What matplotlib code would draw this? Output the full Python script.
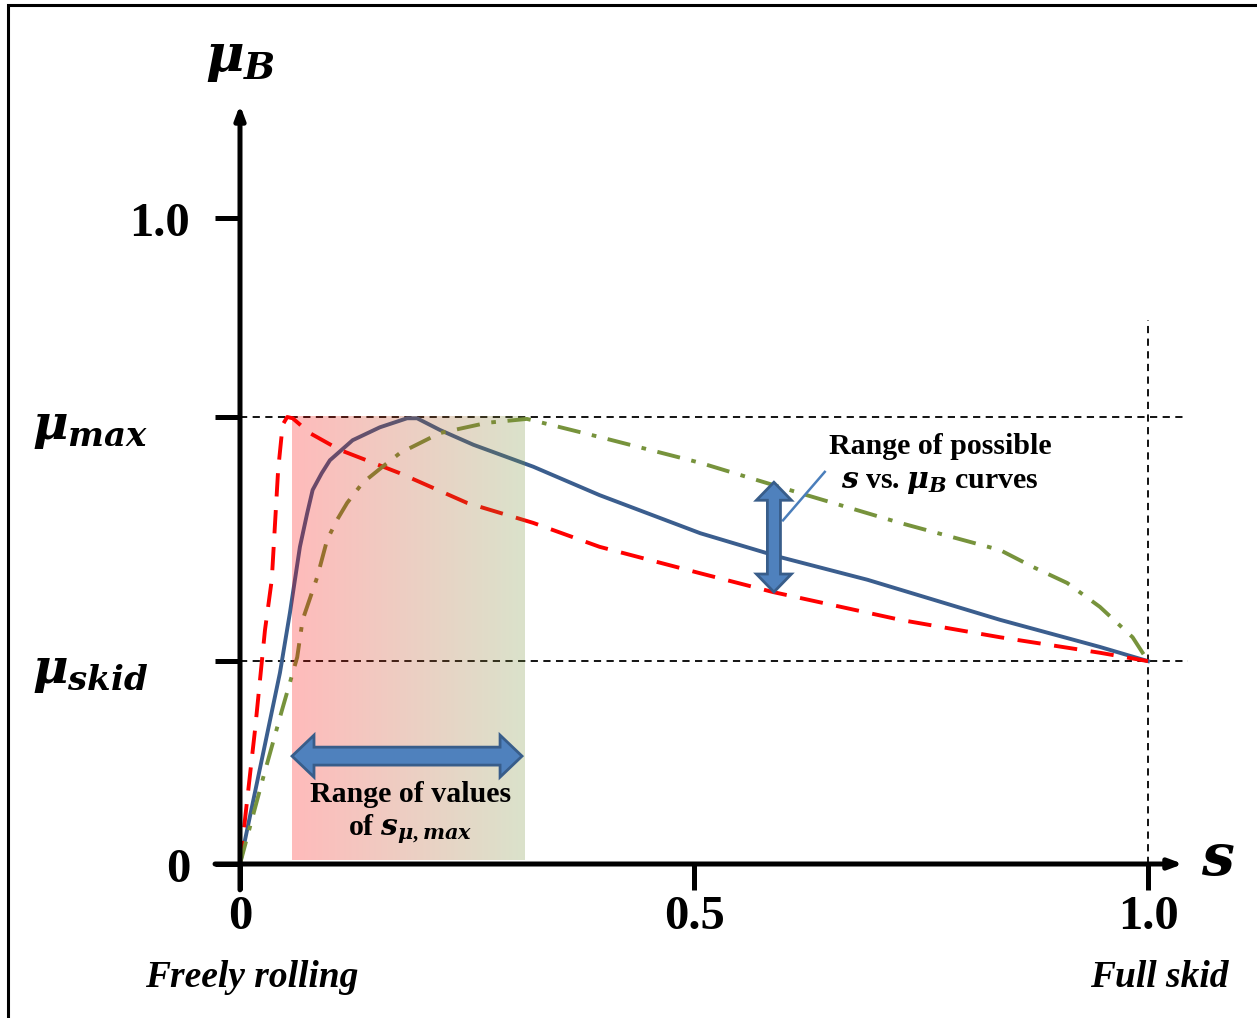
import matplotlib
matplotlib.use("Agg")
import matplotlib.pyplot as plt
import matplotlib.patches as mpatches
import numpy as np

plt.rcParams['font.family'] = 'Liberation Serif'
plt.rcParams['font.weight'] = 'bold'
plt.rcParams['mathtext.fontset'] = 'custom'
plt.rcParams['mathtext.it'] = 'DejaVu Serif:italic:bold'
plt.rcParams['mathtext.rm'] = 'Liberation Serif:bold'
plt.rcParams['mathtext.bf'] = 'Liberation Serif:bold'

# levels on the mu axis
mu_max = 0.692
mu_skid = 0.314

# slip values of the three friction curves
red_s = [0, 0.0165, 0.0275, 0.035, 0.042, 0.047, 0.052, 0.058, 0.077, 0.11, 0.176, 0.25, 0.323,
         0.396, 0.507, 0.587, 0.727, 0.837, 0.947, 1.0]
red_mu = [0, 0.207, 0.362, 0.44, 0.61, 0.68, 0.692, 0.690, 0.667, 0.641, 0.605, 0.559, 0.528,
          0.491, 0.450, 0.421, 0.378, 0.351, 0.327, 0.314]

blue_s = [0, 0.044, 0.055, 0.066, 0.074, 0.080, 0.090, 0.099, 0.124, 0.154, 0.184, 0.195, 0.220,
          0.257, 0.323, 0.396, 0.507, 0.595, 0.691, 0.837, 0.947, 1.0]
blue_mu = [0, 0.296, 0.389, 0.491, 0.543, 0.579, 0.605, 0.625, 0.656, 0.676, 0.690, 0.690, 0.672,
           0.649, 0.615, 0.571, 0.512, 0.475, 0.440, 0.378, 0.336, 0.314]

green_s = [0, 0.025, 0.046, 0.063, 0.069, 0.085, 0.096, 0.107, 0.118, 0.135, 0.157, 0.176, 0.220,
           0.272, 0.316, 0.396, 0.507, 0.617, 0.727, 0.837, 0.873, 0.911, 0.947, 0.983, 1.0]
green_mu = [0, 0.131, 0.237, 0.320, 0.378, 0.444, 0.502, 0.533, 0.559, 0.590, 0.615, 0.636, 0.667,
            0.683, 0.689, 0.661, 0.621, 0.574, 0.528, 0.486, 0.460, 0.435, 0.398, 0.351, 0.314]

# range of s at mu_max (shaded band)
s_band = [0.057, 0.313]

y_ticks = [0.0, mu_skid, mu_max, 1.0]
y_labels = ['0', r'$\mu_{skid}$', r'$\mu_{max}$', '1.0']
x_ticks = [0.0, 0.5, 1.0]
x_labels = ['0', '0.5', '1.0']

fig = plt.figure(figsize=(12.57, 10.18), dpi=100)
ax = fig.add_axes([0, 0, 1, 1])
ax.set_xlim(-0.2643, 1.1200)
ax.set_ylim(-0.2384, 1.3375)
ax.axis('off')

# outer frame (cut on right / bottom)
ax.add_patch(mpatches.Rectangle((-0.2555, -0.6), 2.0, 1.9297, fill=False, lw=2.2,
                                edgecolor='black', clip_on=False))

# reference dashed lines
ax.plot([0, 1.041], [mu_max, mu_max], color='black', lw=1.3, ls=(0, (4, 3)), zorder=2)
ax.plot([0, 1.044], [mu_skid, mu_skid], color='black', lw=1.3, ls=(0, (4, 3)), zorder=2)
ax.plot([1.0, 1.0], [0, 0.842], color='black', lw=1.3, ls=(0, (4, 3)), zorder=2)

# curves
ax.plot(blue_s, blue_mu, color='#3B5E8E', lw=2.8, zorder=3, solid_joinstyle='round')
ax.plot(red_s, red_mu, color='#FF0000', lw=2.8, ls=(0, (6, 3.5)), zorder=3)
ax.plot(green_s, green_mu, color='#77933C', lw=2.8, ls=(0, (6, 3, 1.2, 3)), zorder=3)

# translucent gradient band over the curves
n = 256
c0 = np.array([1.0, 0.0, 0.0])
c1 = np.array([119, 147, 60]) / 255.0
t = np.linspace(0, 1, n)[:, None]
grad = np.ones((1, n, 4))
grad[0, :, :3] = c0 * (1 - t) + c1 * t
grad[0, :, 3] = 0.27
ax.imshow(grad, extent=[s_band[0], s_band[1], 0.006, mu_max], aspect='auto',
          interpolation='bilinear', zorder=4)
ax.set_xlim(-0.2643, 1.1200)
ax.set_ylim(-0.2384, 1.3375)

# axes with arrows
ax.annotate('', xy=(0, 1.175), xytext=(0, -0.04),
            arrowprops=dict(arrowstyle='-|>,head_length=0.8,head_width=0.3', lw=3.6, color='black',
                            shrinkA=0, shrinkB=0), zorder=5)
ax.annotate('', xy=(1.0385, 0), xytext=(-0.0275, 0),
            arrowprops=dict(arrowstyle='-|>,head_length=0.8,head_width=0.3', lw=3.6, color='black',
                            shrinkA=0, shrinkB=0), zorder=5)
for yt in y_ticks:
    ax.plot([-0.0275, 0], [yt, yt], color='black', lw=3.6, solid_capstyle='butt', zorder=5)
for xt in x_ticks:
    ax.plot([xt, xt], [0, -0.040], color='black', lw=3.6, solid_capstyle='butt', zorder=5)

# tick labels
for yt, lab in zip(y_ticks, y_labels):
    if lab.startswith('$'):
        ax.text(-0.229, yt - 0.018, lab, fontsize=35, ha='left', va='center')
    else:
        ax.text(-0.055, yt - 0.010, lab, fontsize=35, ha='right', va='center')
for xt, lab in zip(x_ticks, x_labels):
    ax.text(xt, -0.082, lab, fontsize=35, ha='center', va='center')

ax.text(0.013, -0.175, 'Freely rolling', fontsize=27, style='italic', ha='center', va='center')
ax.text(1.012, -0.175, 'Full skid', fontsize=27, style='italic', ha='center', va='center')
ax.text(0.0, 1.245, r'$\mu_B$', fontsize=38, ha='center', va='center')
ax.text(1.077, 0.004, r'$s$', fontsize=42, ha='center', va='center')


def double_arrow(x0, y0, x1, y1, half_shaft, half_head, head_len, vertical=False):
    if not vertical:
        yc = y0
        pts = [(x0, yc), (x0 + head_len, yc + half_head), (x0 + head_len, yc + half_shaft),
               (x1 - head_len, yc + half_shaft), (x1 - head_len, yc + half_head), (x1, yc),
               (x1 - head_len, yc - half_head), (x1 - head_len, yc - half_shaft),
               (x0 + head_len, yc - half_shaft), (x0 + head_len, yc - half_head)]
    else:
        xc = x0
        pts = [(xc, y0), (xc + half_head, y0 + head_len), (xc + half_shaft, y0 + head_len),
               (xc + half_shaft, y1 - head_len), (xc + half_head, y1 - head_len), (xc, y1),
               (xc - half_head, y1 - head_len), (xc - half_shaft, y1 - head_len),
               (xc - half_shaft, y0 + head_len), (xc - half_head, y0 + head_len)]
    ax.add_patch(mpatches.Polygon(pts, closed=True, facecolor='#4F81BD', edgecolor='#385D8A',
                                  lw=2, zorder=6))


double_arrow(0.0573, 0.167, 0.3106, 0.167, 0.0139, 0.0325, 0.0242)
double_arrow(0.588, 0.421, 0.588, 0.591, 0.0072, 0.0193, 0.0279, vertical=True)

# leader line
ax.plot([0.598, 0.644], [0.532, 0.607], color='#4A7EBB', lw=1.8, zorder=5)

ax.text(0.771, 0.647, 'Range of possible', fontsize=21.5, ha='center', va='center')
ax.text(0.771, 0.591, r'$s$ vs. $\mu_B$ curves', fontsize=21.5, ha='center', va='center')
ax.text(0.188, 0.107, 'Range of values', fontsize=21.5, ha='center', va='center', zorder=7)
ax.text(0.188, 0.054, r'of $s_{\mu,max}$', fontsize=21.5, ha='center', va='center', zorder=7)

fig.savefig('out.png', dpi=100)
